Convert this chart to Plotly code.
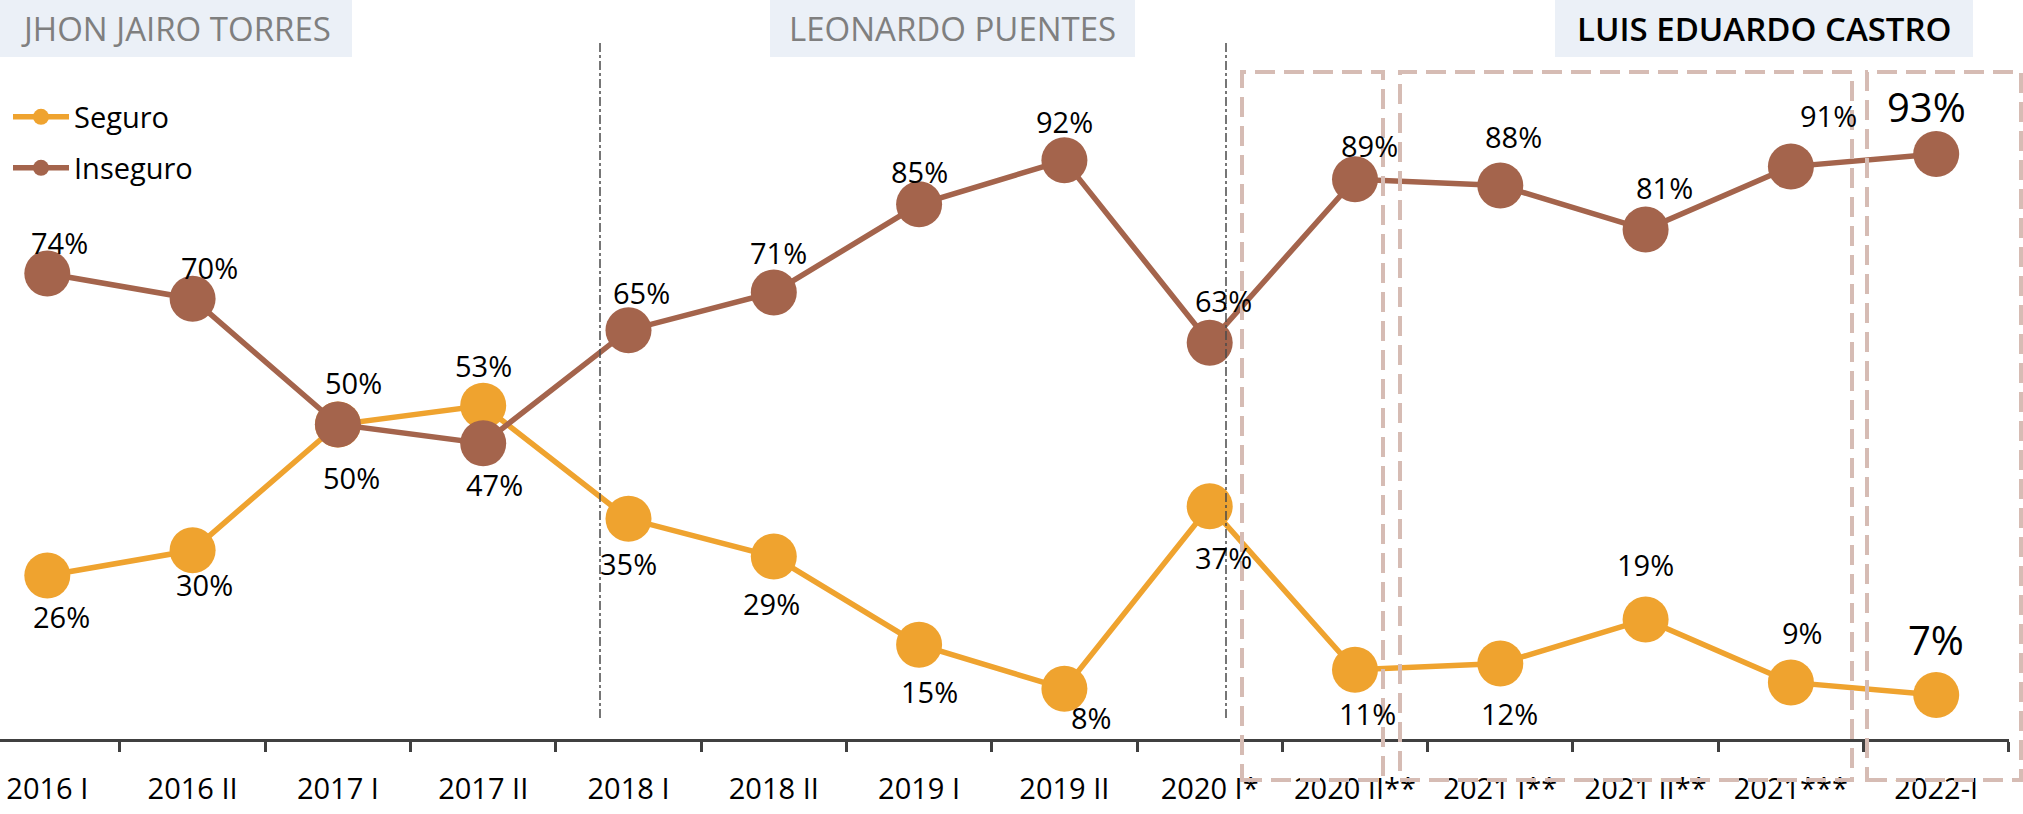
import plotly.graph_objects as go

# ---------------- data ----------------
categories = ["2016 I", "2016 II", "2017 I", "2017 II", "2018 I", "2018 II", "2019 I",
              "2019 II", "2020 I*", "2020 II**", "2021 I**", "2021 II**", "2021***", "2022-I"]
seguro = [26, 30, 50, 53, 35, 29, 15, 8, 37, 11, 12, 19, 9, 7]
inseguro = [74, 70, 50, 47, 65, 71, 85, 92, 63, 89, 88, 81, 91, 93]
header_names = ["JHON JAIRO TORRES", "LEONARDO PUENTES", "LUIS EDUARDO CASTRO"]

# ---------------- label offsets (pixels, dy positive = down) ----------------
seg_off = [(14, 41), (12, 34), (14, 53), (0, -40), (0, 45), (-2, 47), (10, 47),
           (27, 29), (14, 51), (12, 44), (9, 50), (0, -55), (12, -50), (0, -55)]
ins_off = [(12, -31), (17, -31), (16, -42), (11, 41), (13, -38), (5, -40), (0, -33),
           (0, -39), (14, -42), (14, -34), (13, -49), (19, -42), (38, -51), (-10, -48)]

# ---------------- layout constants ----------------
W, H = 2023, 814
ML, MR, MT, MB = 0, 14, 0, 75
PW, PH = W - ML - MR, H - MT - MB
PX_PER_PCT = 6.29
X0_PX, STEP_PX = 47.3, 145.31

C_SEG = "#EFA32F"
C_INS = "#A4644C"
FONT = "Open Sans"


def pxx(x):
    return (x - ML) / PW


def pxy(y):
    return (MT + PH - y) / PH


fig = go.Figure()
fig.add_trace(go.Scatter(
    x=categories, y=seguro, name="Seguro", mode="lines+markers",
    line=dict(color=C_SEG, width=5.5), marker=dict(size=46, color=C_SEG),
    legend="legend", cliponaxis=False,
))
fig.add_trace(go.Scatter(
    x=categories, y=inseguro, name="Inseguro", mode="lines+markers",
    line=dict(color=C_INS, width=5.5), marker=dict(size=46, color=C_INS),
    legend="legend2", cliponaxis=False,
))

annotations = []
n = len(categories)
for series, offs in ((seguro, seg_off), (inseguro, ins_off)):
    for i, (c, v) in enumerate(zip(categories, series)):
        big = i == n - 1
        dx, dy = offs[i]
        annotations.append(dict(
            x=c, y=v, xref="x", yref="y", text=f"{v}%", showarrow=False,
            xanchor="center", yanchor="middle", xshift=dx, yshift=-dy,
            font=dict(family=FONT, size=40 if big else 29, color="#000000"),
        ))

# header boxes
header_boxes = [(0, 352), (770, 1135), (1555, 1973)]
header_colors = ["#7F7F7F", "#7F7F7F", "#000000"]
header_weights = [400, 400, 600]
shapes = []
for (x0, x1), name, col, wt in zip(header_boxes, header_names, header_colors, header_weights):
    shapes.append(dict(type="rect", xref="paper", yref="paper",
                       x0=pxx(x0), x1=pxx(x1), y0=pxy(57), y1=pxy(0),
                       fillcolor="#EBF0F7", line=dict(width=0), layer="below"))
    annotations.append(dict(x=pxx((x0 + x1) / 2), y=pxy(29), xref="paper", yref="paper",
                            text=name, showarrow=False, xanchor="center", yanchor="middle",
                            font=dict(family=FONT, size=33, color=col, weight=wt)))

# dash-dot separators
for xp in (600, 1226):
    shapes.append(dict(type="line", xref="paper", yref="paper",
                       x0=pxx(xp), x1=pxx(xp), y0=pxy(718), y1=pxy(43),
                       line=dict(color="#4A4A4A", width=1.5, dash="dashdot")))

# dashed boxes
for x0, x1 in ((1242, 1383), (1400, 1852), (1867, 2021)):
    shapes.append(dict(type="rect", xref="paper", yref="paper",
                       x0=pxx(x0), x1=pxx(x1), y0=pxy(780), y1=pxy(72),
                       line=dict(color="#D6BCB4", width=4, dash="20px,9px"),
                       fillcolor="rgba(0,0,0,0)"))

fig.update_layout(
    width=W, height=H,
    margin=dict(l=ML, r=MR, t=MT, b=MB, pad=0),
    paper_bgcolor="white", plot_bgcolor="white",
    font=dict(family=FONT, color="#000000"),
    xaxis=dict(
        type="category", range=[(0 - X0_PX) / STEP_PX, 13.501],
        showline=True, linecolor="#404040", linewidth=3,
        ticks="outside", tickson="boundaries", ticklen=10, tickwidth=3, tickcolor="#404040",
        tickfont=dict(family=FONT, size=29, color="#000000"),
        ticklabelstandoff=22,
        showgrid=False, zeroline=False, fixedrange=True, automargin=False,
    ),
    yaxis=dict(range=[0, PH / PX_PER_PCT], visible=False, showgrid=False, zeroline=False,
               automargin=False),
    legend=dict(x=pxx(8), y=pxy(117), xanchor="left", yanchor="middle", itemwidth=56,
                font=dict(family=FONT, size=29, color="#000000"),
                bgcolor="rgba(0,0,0,0)", borderwidth=0),
    legend2=dict(x=pxx(8), y=pxy(168), xanchor="left", yanchor="middle", itemwidth=56,
                 font=dict(family=FONT, size=29, color="#000000"),
                 bgcolor="rgba(0,0,0,0)", borderwidth=0),
    shapes=shapes,
    annotations=annotations,
    showlegend=True,
)

fig.write_html(
    "out.html",
    config={"displayModeBar": False},
    post_script="document.body.style.margin='0';"
                "document.documentElement.style.overflow='hidden';"
                "document.body.style.overflow='hidden';",
)
